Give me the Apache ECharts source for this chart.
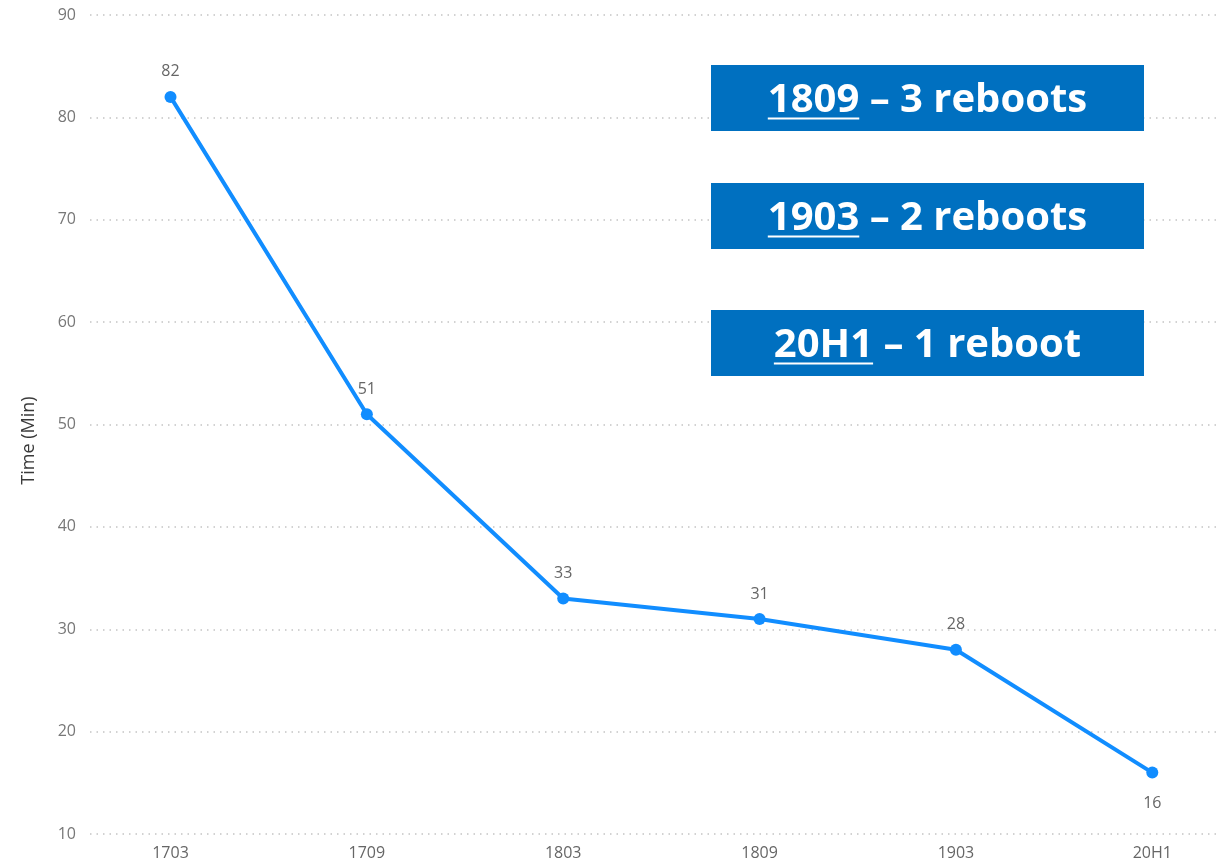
<!DOCTYPE html>
<html><head><meta charset="utf-8">
<script src="https://cdn.jsdelivr.net/npm/echarts@6/dist/echarts.min.js"></script>
<style>html,body{margin:0;padding:0;background:#fff}#c{width:1221px;height:865px}</style>
</head><body><div id="c"></div>
<script>
const categories = ['1703','1709','1803','1809','1903','20H1'];
const times = [82, 51, 33, 31, 28, 16];
const yTicks = [10, 20, 30, 40, 50, 60, 70, 80, 90];
const notes = [
  {num: '1809', rest: ' \u2013 3 reboots'},
  {num: '1903', rest: ' \u2013 2 reboots'},
  {num: '20H1', rest: ' \u2013 1 reboot'}
];

const chart = echarts.init(document.getElementById('c'));
const FONT = '"Open Sans", "Noto Sans", sans-serif';
const boxFont = 'bold 40px "Open Sans"';

const ctx = document.createElement('canvas').getContext('2d');
ctx.font = boxFont;

const boxTops = [65, 183, 310];
const boxLeft = 711, boxW = 433, boxH = 66;
const graphics = [];
notes.forEach((n, i) => {
  const top = boxTops[i];
  graphics.push({type: 'rect', left: boxLeft, top: top, shape: {width: boxW, height: boxH}, style: {fill: '#0070C0'}, z: 10});
  const wNum = ctx.measureText(n.num).width;
  const wAll = ctx.measureText(n.num + n.rest).width;
  const x0 = boxLeft + boxW / 2 - wAll / 2;
  const cy = top + boxH / 2;
  graphics.push({type: 'text', x: boxLeft + boxW / 2, y: cy + 3, z: 11,
    style: {text: n.num + n.rest, fill: '#fff', font: boxFont, align: 'center', verticalAlign: 'middle'}});
  graphics.push({type: 'line', z: 11, shape: {x1: x0, y1: cy + 20.5, x2: x0 + wNum, y2: cy + 20.5},
    style: {stroke: '#fff', lineWidth: 2}});
});

chart.setOption({
  backgroundColor: '#fff',
  animation: false,
  grid: {left: 90, right: 0, top: 15, bottom: 31},
  xAxis: {
    type: 'value', min: -0.41, max: 5.35,
    axisLine: {show: false}, axisTick: {show: false}, splitLine: {show: false},
    axisLabel: {customValues: categories.map((c, i) => i), formatter: v => categories[v],
      color: '#666', fontFamily: FONT, fontSize: 16, margin: 11}
  },
  yAxis: {
    type: 'value', min: yTicks[0], max: yTicks[yTicks.length - 1], interval: 10,
    name: 'Time (Min)', nameLocation: 'middle', nameGap: 52, nameRotate: 90,
    nameTextStyle: {color: '#3a3a3a', fontSize: 18, fontFamily: FONT, padding: [0, 32, 0, 0]},
    axisLine: {show: false}, axisTick: {show: false},
    axisLabel: {color: '#777', fontFamily: FONT, fontSize: 16, margin: 14},
    splitLine: {lineStyle: {color: '#c4c4c4', type: [1.5, 5], width: 1.5}}
  },
  series: [{
    type: 'line',
    data: times.map((v, i) => i === times.length - 1
      ? {value: [i, v], label: {position: 'bottom', distance: 17}}
      : [i, v]),
    symbol: 'circle', symbolSize: 12,
    lineStyle: {color: '#118DFF', width: 4},
    itemStyle: {color: '#118DFF'},
    label: {show: true, position: 'top', distance: 11, color: '#666', fontFamily: FONT, fontSize: 16,
      formatter: p => p.value[1]}
  }],
  graphic: graphics
});
</script></body></html>
